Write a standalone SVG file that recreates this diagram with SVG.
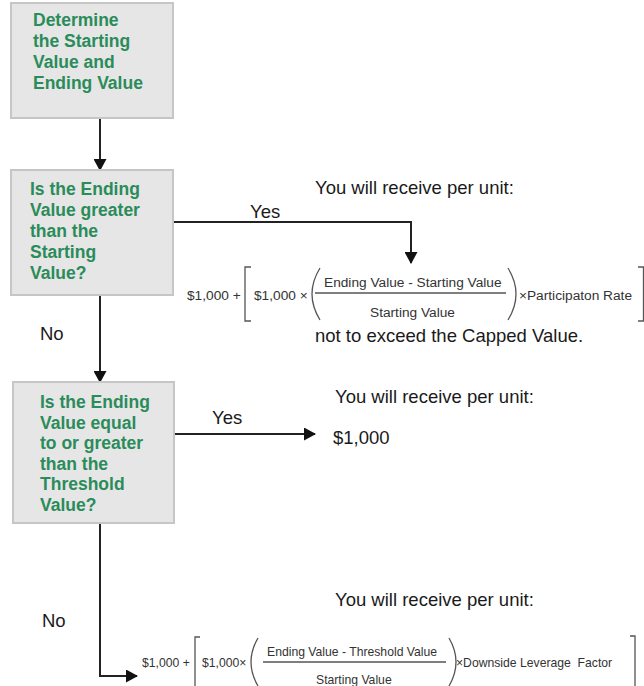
<svg xmlns="http://www.w3.org/2000/svg" width="644" height="686" viewBox="0 0 644 686">
<defs>
<marker id="ah" markerWidth="13" markerHeight="13" refX="11" refY="6.5" orient="auto" markerUnits="userSpaceOnUse" viewBox="0 0 13 13">
<path d="M0,0 L12,6.5 L0,13 z" fill="#111"/>
</marker>
<style>
.box{fill:#e6e6e6;stroke:#c6c6c6;stroke-width:2}
.bt{font-family:"Liberation Sans",Arial,sans-serif;font-weight:bold;font-size:17.5px;fill:#2a8c5a}
.lb{font-family:"Liberation Sans",Arial,sans-serif;font-size:18.5px;fill:#1a1a1a}
.f{font-family:"Liberation Sans",Arial,sans-serif;font-size:13.7px;fill:#333}
.fs{font-family:"Liberation Sans",Arial,sans-serif;font-size:12.2px;fill:#333}
.ln{stroke:#222;stroke-width:2;fill:none}
.th{stroke:#555;stroke-width:1.3;fill:none}
</style>
</defs>
<rect width="644" height="686" fill="#fff"/>
<g id="connectors">
<path class="ln" d="M100,118 V170" marker-end="url(#ah)"/>
<path class="ln" d="M173,222 H411 V263" marker-end="url(#ah)"/>
<path class="ln" d="M100,295 V382" marker-end="url(#ah)"/>
<path class="ln" d="M174,434 H315" marker-end="url(#ah)"/>
<path class="ln" d="M100,523 V676 H137" marker-end="url(#ah)"/>
</g>
<g id="n1">
<rect class="box" x="11" y="3" width="162" height="115"/>
<text class="bt" x="33" y="26">Determine</text>
<text class="bt" x="33" y="47">the Starting</text>
<text class="bt" x="33" y="68">Value and</text>
<text class="bt" x="33" y="89">Ending Value</text>
</g>
<g id="n2">
<rect class="box" x="11" y="170" width="162" height="125"/>
<text class="bt" x="30" y="195">Is the Ending</text>
<text class="bt" x="30" y="216">Value greater</text>
<text class="bt" x="30" y="237">than the</text>
<text class="bt" x="30" y="258">Starting</text>
<text class="bt" x="30" y="279">Value?</text>
</g>
<g id="n3">
<rect class="box" x="13" y="382" width="161" height="141"/>
<text class="bt" x="40" y="408">Is the Ending</text>
<text class="bt" x="40" y="428.5">Value equal</text>
<text class="bt" x="40" y="449">to or greater</text>
<text class="bt" x="40" y="469.5">than the</text>
<text class="bt" x="40" y="490">Threshold</text>
<text class="bt" x="40" y="510.5">Value?</text>
</g>
<g id="labels">
<text class="lb" x="250" y="218">Yes</text>
<text class="lb" x="40" y="340">No</text>
<text class="lb" x="212" y="424">Yes</text>
<text class="lb" x="42" y="627">No</text>
</g>
<g id="out1">
<text class="lb" x="315" y="194">You will receive per unit:</text>
<text class="f" x="187" y="300">$1,000 +</text>
<path class="th" d="M251,267 H245 V321 H251"/>
<text class="f" x="254" y="300">$1,000 ×</text>
<path class="th" d="M320,268 Q304,294 320,320"/>
<text class="f" x="324" y="287">Ending Value - Starting Value</text>
<line class="th" x1="315" y1="293" x2="506" y2="293"/>
<text class="f" x="370" y="317">Starting Value</text>
<path class="th" d="M508,268 Q524,294 508,320"/>
<text class="f" x="519" y="300">×Participaton Rate</text>
<path class="th" d="M638,267 H643.5 V321 H638"/>
<text class="lb" x="315" y="342">not to exceed the Capped Value.</text>
</g>
<g id="out2">
<text class="lb" x="335" y="403">You will receive per unit:</text>
<text class="lb" x="333" y="444">$1,000</text>
</g>
<g id="out3">
<text class="lb" x="335" y="606">You will receive per unit:</text>
<text class="fs" x="142" y="667">$1,000 +</text>
<path class="th" d="M200,637 H195 V686"/>
<text class="fs" x="202" y="667">$1,000×</text>
<path class="th" d="M258,638 Q244,662 258,686"/>
<text class="fs" x="267" y="656">Ending Value - Threshold Value</text>
<line class="th" x1="263" y1="662" x2="446" y2="662"/>
<text class="fs" x="316" y="684">Starting Value</text>
<path class="th" d="M449,638 Q463,662 449,686"/>
<text class="fs" x="456" y="667" xml:space="preserve">×Downside Leverage  Factor</text>
<path class="th" d="M630,636 H635 V686"/>
</g>
</svg>
